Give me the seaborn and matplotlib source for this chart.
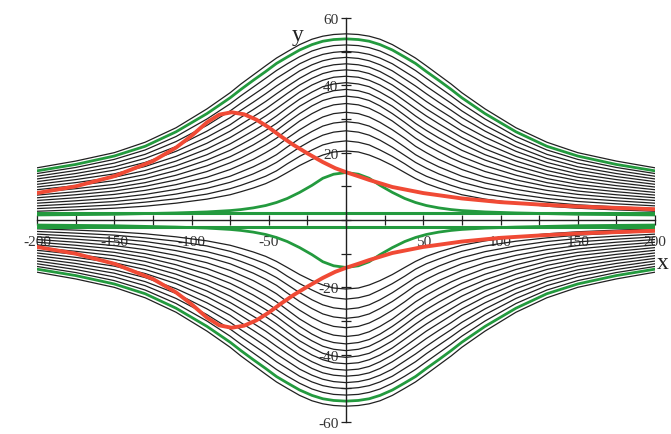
import numpy as np
import pandas as pd
import matplotlib
matplotlib.use("Agg")
import matplotlib.pyplot as plt
import seaborn as sns
from matplotlib.ticker import MultipleLocator, FuncFormatter

# ---------------- data ----------------
# half-profiles for x >= 0; the picture is symmetric in x and in y
x_half = [0, 8, 15, 22, 30, 38, 45, 52, 60, 68, 75, 90, 110, 130, 150, 175, 200]

black_01 = [20.5, 20.2, 19.3, 18.0, 16.2, 14.1, 12.3, 10.8, 9.5, 8.4, 7.5, 6.2, 5.0, 4.1, 3.5, 3.0, 2.6]
black_02 = [23.5, 23.1, 22.3, 20.8, 18.9, 16.7, 14.6, 13.0, 11.6, 10.3, 9.3, 7.7, 6.3, 5.3, 4.5, 3.9, 3.4]
black_03 = [26.5, 26.1, 25.2, 23.7, 21.6, 19.2, 17.1, 15.4, 13.7, 12.3, 11.2, 9.4, 7.7, 6.4, 5.5, 4.8, 4.2]
black_04 = [29.2, 28.8, 27.9, 26.3, 24.2, 21.7, 19.4, 17.6, 15.8, 14.3, 13.0, 11.0, 9.1, 7.6, 6.5, 5.7, 5.0]
black_05 = [32.0, 31.6, 30.6, 29.0, 26.8, 24.3, 21.9, 20.0, 18.0, 16.4, 15.0, 12.7, 10.5, 8.8, 7.6, 6.6, 5.8]
black_06 = [34.6, 34.2, 33.2, 31.6, 29.4, 26.7, 24.3, 22.3, 20.3, 18.4, 17.0, 14.4, 11.9, 10.0, 8.6, 7.5, 6.6]
black_07 = [36.8, 36.4, 35.5, 33.9, 31.6, 29.0, 26.6, 24.5, 22.3, 20.4, 18.8, 16.1, 13.3, 11.1, 9.6, 8.4, 7.4]
black_08 = [38.8, 38.4, 37.5, 35.9, 33.8, 31.1, 28.7, 26.6, 24.4, 22.4, 20.7, 17.8, 14.7, 12.3, 10.6, 9.3, 8.2]
black_09 = [40.8, 40.4, 39.6, 38.0, 35.9, 33.3, 30.9, 28.7, 26.5, 24.4, 22.6, 19.4, 16.1, 13.5, 11.7, 10.2, 9.0]
black_10 = [42.7, 42.4, 41.5, 40.1, 38.0, 35.4, 33.1, 30.9, 28.6, 26.4, 24.5, 21.1, 17.5, 14.7, 12.7, 11.1, 9.8]
black_11 = [44.6, 44.3, 43.5, 42.1, 40.1, 37.6, 35.3, 33.0, 30.7, 28.4, 26.4, 22.8, 18.9, 15.9, 13.7, 12.0, 10.6]
black_12 = [46.4, 46.1, 45.4, 44.1, 42.1, 39.7, 37.5, 35.2, 32.8, 30.5, 28.3, 24.6, 20.4, 17.1, 14.8, 12.9, 11.4]
black_13 = [48.3, 48.0, 47.3, 46.1, 44.3, 41.9, 39.8, 37.5, 35.0, 32.6, 30.4, 26.4, 21.8, 18.3, 15.8, 13.8, 12.2]
black_14 = [50.1, 49.8, 49.2, 48.1, 46.4, 44.1, 42.1, 39.7, 37.2, 34.7, 32.4, 28.1, 23.3, 19.5, 16.9, 14.7, 13.0]
black_15 = [52.0, 51.8, 51.2, 50.2, 48.5, 46.4, 44.4, 42.1, 39.5, 36.9, 34.5, 30.0, 24.8, 20.8, 18.0, 15.6, 13.8]
black_16 = [55.3, 55.1, 54.6, 53.7, 52.1, 50.0, 48.1, 45.8, 43.1, 40.4, 37.8, 33.0, 27.4, 23.1, 20.0, 17.5, 15.5]

green_outer = [53.8, 53.6, 53.1, 52.1, 50.5, 48.4, 46.5, 44.1, 41.5, 38.8, 36.3, 31.6, 26.2, 21.9, 19.0, 16.5, 14.6]
green_inner = [14.1, 13.6, 12.4, 10.3, 8.2, 6.4, 5.2, 4.3, 3.6, 3.1, 2.8, 2.4, 2.1, 1.9, 1.7, 1.6, 1.5]
green_band = 2.0

red_x = [-200, -175, -150, -125, -110, -100, -90, -82, -74, -66, -58, -50, -42,
         -34, -25, -15, -7, 0, 8, 15, 30, 50, 75, 100, 125, 150, 175, 200]
red_y = [8.0, 10.0, 13.0, 17.5, 21.5, 25.0, 29.0, 31.3, 32.0, 31.4, 29.8, 27.5, 24.8,
         22.3, 19.8, 17.2, 15.4, 14.2, 13.0, 11.9, 9.8, 8.0, 6.4, 5.3, 4.6, 4.0, 3.6, 3.2]

x_label_ticks = [-200, -150, -100, -50, 50, 100, 150, 200]
y_label_ticks = [-60, -40, -20, 20, 40, 60]

black_curves = [black_01, black_02, black_03, black_04, black_05, black_06,
                black_07, black_08, black_09, black_10, black_11, black_12,
                black_13, black_14, black_15, black_16]


def full(half_y):
    xs = [-v for v in x_half[::-1]] + x_half[1:]
    ys = list(half_y[::-1]) + list(half_y[1:])
    return xs, ys


def long_frame(curves, tag):
    rows = []
    for i, c in enumerate(curves):
        xs, ys = full(c)
        for s in (1, -1):
            for xv, yv in zip(xs, ys):
                rows.append((f"{tag}{i}_{s}", xv, s * yv))
    return pd.DataFrame(rows, columns=["curve", "x", "y"])


df_black = long_frame(black_curves, "b")
df_green = long_frame([green_outer, green_inner], "g")
band_rows = []
for s in (1, -1):
    for xv in (-200, 200):
        band_rows.append((f"band_{s}", xv, s * green_band))
df_band = pd.DataFrame(band_rows, columns=["curve", "x", "y"])
red_rows = []
for s in (1, -1):
    for xv, yv in zip(red_x, red_y):
        red_rows.append((f"red_{s}", xv, s * yv))
df_red = pd.DataFrame(red_rows, columns=["curve", "x", "y"])

# ---------------- plotting ----------------
sns.set_style("white")
plt.rcParams["font.family"] = ["Liberation Serif", "DejaVu Serif"]

fig = plt.figure(figsize=(6.71, 4.35), dpi=100)
ax = fig.add_axes([37 / 671, 12 / 435, 618 / 671, 404 / 435])

sns.lineplot(data=df_black, x="x", y="y", units="curve", estimator=None,
             sort=False, color="#202020", lw=0.9, legend=False, ax=ax)
sns.lineplot(data=df_band, x="x", y="y", units="curve", estimator=None,
             sort=False, color="#239a3e", lw=2.2, legend=False, ax=ax)
sns.lineplot(data=df_green, x="x", y="y", units="curve", estimator=None,
             sort=False, color="#239a3e", lw=2.0, legend=False, ax=ax)
sns.lineplot(data=df_red, x="x", y="y", units="curve", estimator=None,
             sort=False, color="#f04a35", lw=2.8, legend=False, ax=ax)

ax.set_xlabel("")
ax.set_ylabel("")

for side in ("top", "right"):
    ax.spines[side].set_visible(False)
ax.spines["left"].set_position("zero")
ax.spines["bottom"].set_position("zero")
for side in ("left", "bottom"):
    ax.spines[side].set_color("#202020")
    ax.spines[side].set_linewidth(1.0)
    ax.spines[side].set_zorder(5)

ax.xaxis.set_major_locator(MultipleLocator(50))
ax.xaxis.set_minor_locator(MultipleLocator(25))
ax.yaxis.set_major_locator(MultipleLocator(20))
ax.yaxis.set_minor_locator(MultipleLocator(10))
ax.xaxis.set_major_formatter(FuncFormatter(
    lambda v, p: f"{int(round(v))}" if int(round(v)) in x_label_ticks else ""))
ax.yaxis.set_major_formatter(FuncFormatter(
    lambda v, p: f"{int(round(v))}" if int(round(v)) in y_label_ticks else ""))
ax.tick_params(axis="both", which="both", direction="inout", length=7,
               width=0.9, color="#202020", labelsize=11, labelcolor="#333333",
               bottom=True, left=True, top=False, right=False)
ax.tick_params(axis="x", pad=7)
ax.tick_params(axis="y", pad=2)

ax.set_xlim(-200, 200)
ax.set_ylim(-60, 60)

ax.text(-31, 55, "y", fontsize=17, ha="center", va="center", color="#222222")
ax.text(205, -12.5, "x", fontsize=17, ha="center", va="center", color="#222222",
        clip_on=False)

fig.savefig("out.png", dpi=100, facecolor="white")
